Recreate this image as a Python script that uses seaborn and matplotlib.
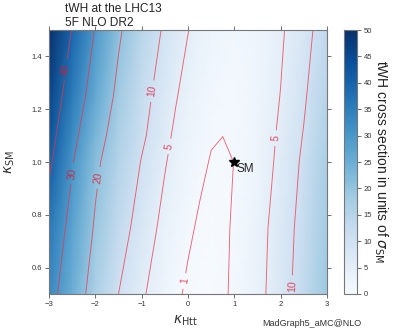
import numpy as np
import matplotlib
matplotlib.use("Agg")
import matplotlib.pyplot as plt
import seaborn as sns

# grid (kappa_Htt columns, kappa_SM rows)
kappa_htt = [-3, -2.5, -2, -1.5, -1, -0.5, -0.25, 0, 0.25, 0.5, 0.75, 1, 1.25, 1.5, 2, 2.5, 3]
kappa_sm = [0.5, 0.75, 1.0, 1.1, 1.25, 1.5]

xs_050 = [33.0, 24.9, 16.5, 10.0, 5.6, 2.35, 1.33, 0.66, 0.33, 0.34, 0.68, 1.37, 2.40, 3.7, 7.3, 13.0, 19.0]
xs_075 = [36.0, 27.5, 19.2, 12.7, 7.5, 3.7, 2.27, 1.32, 0.74, 0.52, 0.68, 1.20, 2.09, 3.35, 7.0, 12.1, 18.0]
xs_100 = [41.5, 30.5, 21.4, 15.3, 9.7, 5.29, 3.61, 2.31, 1.40, 0.88, 0.745, 1.02, 1.65, 2.68, 6.0, 11.0, 17.0]
xs_110 = [43.3, 32.5, 23.2, 16.5, 11.0, 6.0, 4.2, 2.82, 1.83, 1.15, 1.01, 1.15, 1.70, 2.64, 5.64, 10.3, 16.2]
xs_125 = [46.0, 35.5, 26.0, 18.3, 12.1, 7.2, 5.17, 3.63, 2.47, 1.70, 1.31, 1.30, 1.68, 2.44, 5.1, 9.3, 15.0]
xs_150 = [51.6, 39.5, 29.6, 21.0, 14.6, 9.1, 6.9, 5.1, 3.69, 2.65, 1.99, 1.71, 1.81, 2.3, 4.4, 8.0, 13.1]

levels = [1, 5, 10, 20, 30, 40]
sm_point = (1.0, 1.0)

Z = np.array([xs_050, xs_075, xs_100, xs_110, xs_125, xs_150])
X, Y = np.meshgrid(kappa_htt, kappa_sm)

sns.set_style("ticks")
plt.rcParams['font.family'] = ['Liberation Sans', 'DejaVu Sans']
cmap = sns.color_palette("Blues", as_cmap=True)

fig = plt.figure(figsize=(3.97, 3.32), dpi=100)
ax = fig.add_axes([0.1234, 0.1145, 0.7003, 0.795])
cax = fig.add_axes([0.8665, 0.1145, 0.0327, 0.795])

mesh = ax.pcolormesh(X, Y, Z, shading='gouraud', cmap=cmap, vmin=0, vmax=50)
cs = ax.contour(X, Y, Z, levels=levels, colors='#ee3344', linewidths=0.65, alpha=0.75)
label_pos = [(-2.65, 1.35), (-2.46, 0.955), (-1.94, 0.94), (-0.84, 1.27),
             (-0.43, 1.06), (1.92, 1.09), (-0.11, 0.55), (2.16, 0.53)]
ax.clabel(cs, fmt='%d', fontsize=7.5, colors='#e8102a', manual=label_pos, inline=True)

ax.plot(sm_point[0], sm_point[1], marker='*', color='k', ms=7, ls='none')
ax.text(sm_point[0] + 0.04, sm_point[1] - 0.025, 'SM', fontsize=8.5, ha='left', va='center')

ax.set_xlim(-3, 3)
ax.set_ylim(0.5, 1.5)
ax.set_xticks([-3, -2, -1, 0, 1, 2, 3])
ax.set_yticks([0.6, 0.8, 1.0, 1.2, 1.4])
ax.tick_params(top=True, right=True, direction='out', labelsize=5.5, length=3,
               width=0.6, color='#555555', labelcolor='#333333', pad=2)
for s in ax.spines.values():
    s.set_color('#777777')
    s.set_linewidth(0.8)

ax.set_xlabel(r'$\kappa_{\rm Htt}$', fontsize=10, color='#333333')
ax.set_ylabel(r'$\kappa_{\rm SM}$', fontsize=10, color='#333333')
ax.xaxis.set_label_coords(0.49, -0.075)
ax.yaxis.set_label_coords(-0.115, 0.5)

cb = fig.colorbar(mesh, cax=cax, ticks=list(range(0, 51, 5)))
cb.outline.set_edgecolor('#777777')
cb.outline.set_linewidth(0.8)
cb.ax.tick_params(labelsize=5.5, length=3, width=0.6, color='#555555', labelcolor='#333333', pad=2)
cb.set_label(r'tWH cross section in units of $\sigma_{\rm SM}$', rotation=270,
             fontsize=10, labelpad=12, color='#222222')

fig.text(0.163, 0.992, 'tWH at the LHC13', fontsize=8.6, va='top', color='#222222')
fig.text(0.163, 0.950, '5F NLO DR2', fontsize=8.6, va='top', color='#222222')
fig.text(0.91, 0.025, 'MadGraph5_aMC@NLO', fontsize=6.5, ha='right', va='center', color='#333333')

fig.savefig('out.png', dpi=100)
